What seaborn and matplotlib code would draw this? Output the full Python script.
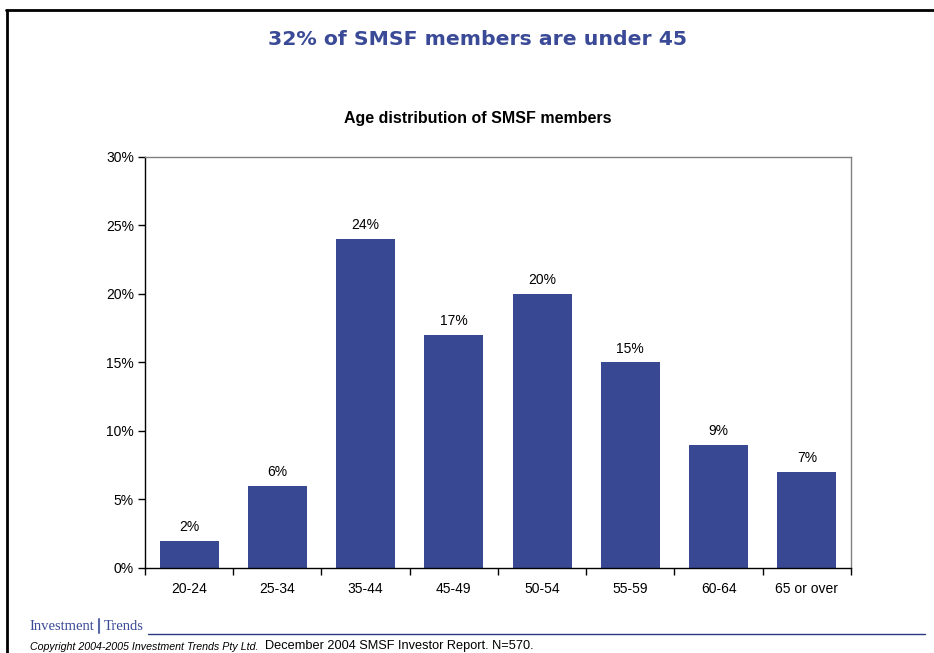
import matplotlib
matplotlib.use("Agg")
import matplotlib.pyplot as plt
from matplotlib.lines import Line2D
import seaborn as sns
import pandas as pd

# chart data
age_groups = ["20-24", "25-34", "35-44", "45-49", "50-54", "55-59", "60-64", "65 or over"]
share_pct = [2, 6, 24, 17, 20, 15, 9, 7]
y_ticks = [0, 5, 10, 15, 20, 25, 30]

df = pd.DataFrame({"age": age_groups, "share": share_pct})

sns.set_style("white")
plt.rcParams["font.family"] = ["Liberation Sans", "DejaVu Sans"]
plt.rcParams["text.color"] = "black"
plt.rcParams["xtick.color"] = "black"
plt.rcParams["ytick.color"] = "black"

bar_color = "#394893"
fig = plt.figure(figsize=(9.34, 6.53), dpi=100)
ax = fig.add_axes([0.1552, 0.1302, 0.7559, 0.6294])

sns.barplot(data=df, x="age", y="share", color=bar_color, width=0.67,
            saturation=1, linewidth=0, ax=ax)

for i, v in enumerate(share_pct):
    ax.text(i, v + 0.5, f"{v}%", ha="center", va="bottom", fontsize=10, color="black")

ax.set_ylim(0, 30)
ax.set_xlim(-0.5, len(age_groups) - 0.5)
ax.set_yticks(y_ticks)
ax.set_yticklabels([f"{t}%" for t in y_ticks], fontsize=10)
ax.set_xticks(range(len(age_groups)))
ax.set_xticklabels(age_groups, fontsize=10)
ax.set_xticks([i + 0.5 for i in range(-1, len(age_groups))], minor=True)
ax.tick_params(axis="x", which="major", bottom=False, length=0, pad=10)
ax.tick_params(axis="x", which="minor", bottom=True, length=5, width=1,
               direction="out", color="black")
ax.tick_params(axis="y", left=True, length=5, width=1, direction="out",
               color="black", pad=3)
ax.set_xlabel("")
ax.set_ylabel("")

for side in ["left", "bottom"]:
    ax.spines[side].set_color("black")
    ax.spines[side].set_linewidth(1)
for side in ["top", "right"]:
    ax.spines[side].set_color("#808080")
    ax.spines[side].set_linewidth(1)

# titles
fig.text(0.511, 0.94, "32% of SMSF members are under 45", ha="center", va="center",
         fontsize=14.7, fontweight="bold", color="#3A4A96", family="DejaVu Sans")
fig.text(0.511, 0.818, "Age distribution of SMSF members", ha="center", va="center",
         fontsize=11.5, fontweight="bold", color="black")

# slide frame
fig.add_artist(Line2D([0.0064, 1.0], [0.985, 0.985], color="black", linewidth=2,
                      transform=fig.transFigure))
fig.add_artist(Line2D([0.0075, 0.0075], [0.0, 0.985], color="black", linewidth=2,
                      transform=fig.transFigure))
fig.add_artist(Line2D([0.158, 0.99], [0.029, 0.029], color="#2B3A80", linewidth=1,
                      transform=fig.transFigure))
# little logo stroke between the two words
fig.add_artist(Line2D([0.1055, 0.1055], [0.031, 0.052], color="#5A6AA8", linewidth=1.5,
                      transform=fig.transFigure))

# footer
fig.text(0.032, 0.031, "Investment", ha="left", va="bottom", fontsize=10.5,
         color="#3A4A96", family="Liberation Serif")
fig.text(0.111, 0.031, "Trends", ha="left", va="bottom", fontsize=10.5,
         color="#3A4A96", family="Liberation Serif")
fig.text(0.032, 0.002, "Copyright 2004-2005 Investment Trends Pty Ltd.", ha="left",
         va="bottom", fontsize=7.7, style="italic", color="black")
fig.text(0.2835, 0.002, "December 2004 SMSF Investor Report. N=570.", ha="left",
         va="bottom", fontsize=9.2, color="black")

fig.savefig("out.png", dpi=100)
